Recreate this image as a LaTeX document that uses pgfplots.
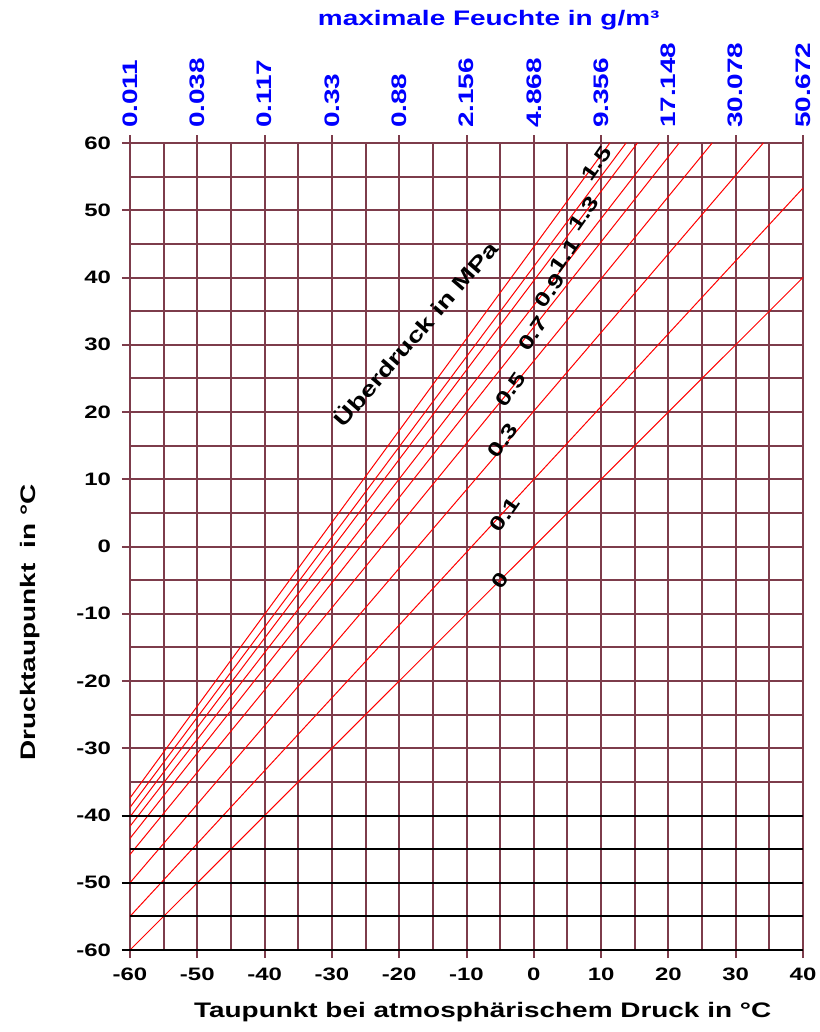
\documentclass[border=0pt]{standalone}
\usepackage{fontspec}
\setmainfont{Liberation Sans}[FakeStretch=1.33]
\usepackage{pgfplots}
\pgfplotsset{compat=1.18}
\definecolor{gridbrown}{RGB}{125,60,75}
\definecolor{topblue}{RGB}{0,0,255}

\begin{document}
\begin{tikzpicture}[
  lbl/.style={font=\bfseries\fontsize{10}{11}\selectfont, rotate=55, inner sep=0pt}
]
\begin{axis}[
    at={(0,0)}, anchor=south west,
    scale only axis, width=336.5pt, height=403.5pt,
    xmin=-60, xmax=40, ymin=-60, ymax=60,
    xtick={-60,-50,...,40}, minor xtick={-55,-45,...,35},
    ytick={-60,-50,...,60}, minor ytick={-55,-45,...,55},
    xtick pos=bottom, ytick pos=left,
    tick align=outside, major tick length=4pt, minor tick length=0pt,
    tick style={gridbrown, line width=1pt},
    grid=both,
    major grid style={gridbrown, line width=1pt},
    minor grid style={gridbrown, line width=1pt},
    axis line style={gridbrown, line width=1pt},
    /pgf/number format/assume math mode=true,
    tick label style={font=\bfseries\fontsize{9}{10}\selectfont},
    xticklabel style={yshift=-1.5pt},
    yticklabel style={xshift=-2pt},
    xlabel={Taupunkt bei atmosphärischem Druck in °C},
    ylabel={Drucktaupunkt\ \ in °C},
    label style={font=\bfseries\fontsize{10.5}{12}\selectfont},
    xlabel style={at={(axis description cs:0.524,-0.0768)}, anchor=center},
    ylabel style={at={(axis description cs:-0.1486,0.406)}, anchor=center, rotate=0},
    clip=false,
]
% Druckkurven (Überdruck in MPa)
\addplot[red, line width=0.5pt] coordinates {(-60,-60) (40,40)};   % 0
\addplot[red, line width=0.5pt] coordinates {(-60,-55) (40,53.3)}; % 0.1
\addplot[red, line width=0.5pt] coordinates {(-60,-50) (34.1,60)}; % 0.3
\addplot[red, line width=0.5pt] coordinates {(-60,-45.8) (26.5,60)}; % 0.5
\addplot[red, line width=0.5pt] coordinates {(-60,-43.4) (21.6,60)}; % 0.7
\addplot[red, line width=0.5pt] coordinates {(-60,-41.6) (18.7,60)}; % 0.9
\addplot[red, line width=0.5pt] coordinates {(-60,-40.2) (15.4,60)}; % 1.1
\addplot[red, line width=0.5pt] coordinates {(-60,-38.8) (13.7,60)}; % 1.3
\addplot[red, line width=0.5pt] coordinates {(-60,-37.4) (11.3,60)}; % 1.5

% schwarze Linien unten
\addplot[black, line width=1pt] coordinates {(-61.2,-40) (40,-40)};
\addplot[black, line width=1pt] coordinates {(-60,-45) (40,-45)};
\addplot[black, line width=1pt] coordinates {(-61.2,-50) (40,-50)};
\addplot[black, line width=1pt] coordinates {(-60,-55) (40,-55)};
\addplot[black, line width=1pt] coordinates {(-61.2,-60) (40,-60)};

\node[lbl] at (axis cs:-5,-5) {0};
\node[lbl] at (axis cs:-4.3,4.7) {0.1};
\node[lbl] at (axis cs:-4.6,15.8) {0.3};
\node[lbl] at (axis cs:-3.5,23.3) {0.5};
\node[lbl] at (axis cs:-0.1,31.7) {0.7};
\node[lbl] at (axis cs:2.4,38.1) {0.9};
\node[lbl] at (axis cs:4.6,43.3) {1.1};
\node[lbl] at (axis cs:7.4,49.5) {1.3};
\node[lbl] at (axis cs:9.3,57) {1.5};
\node[lbl, rotate=-6, font=\bfseries\fontsize{10.5}{12}\selectfont] at (axis cs:-17.65,31.7) {Überdruck in MPa};
\end{axis}

\begin{axis}[
    at={(0,0)}, anchor=south west,
    scale only axis, width=336.5pt, height=403.5pt,
    xmin=-60, xmax=40, ymin=-60, ymax=60,
    axis x line*=top, axis y line=none,
    axis line style={draw=none},
    xtick={-60,-50,...,40},
    xticklabels={0.011,0.038,0.117,0.33,0.88,2.156,4.868,9.356,17.148,30.078,50.672},
    tick align=outside, major tick length=4pt,
    tick style={gridbrown, line width=1pt},
    xticklabel style={rotate=90, anchor=west, text=topblue,
      font=\bfseries\fontsize{10.5}{12}\selectfont},
    xlabel={maximale Feuchte in g/m³},
    xlabel style={at={(axis description cs:0.533,1.1524)}, anchor=center,
      text=topblue, font=\bfseries\fontsize{10.5}{12}\selectfont},
]
\addplot[draw=none] coordinates {(-60,-60) (40,60)};
\end{axis}
\pgfresetboundingbox
\path (-65pt,-41pt) rectangle (344.5pt,475pt);
\end{tikzpicture}
\end{document}
